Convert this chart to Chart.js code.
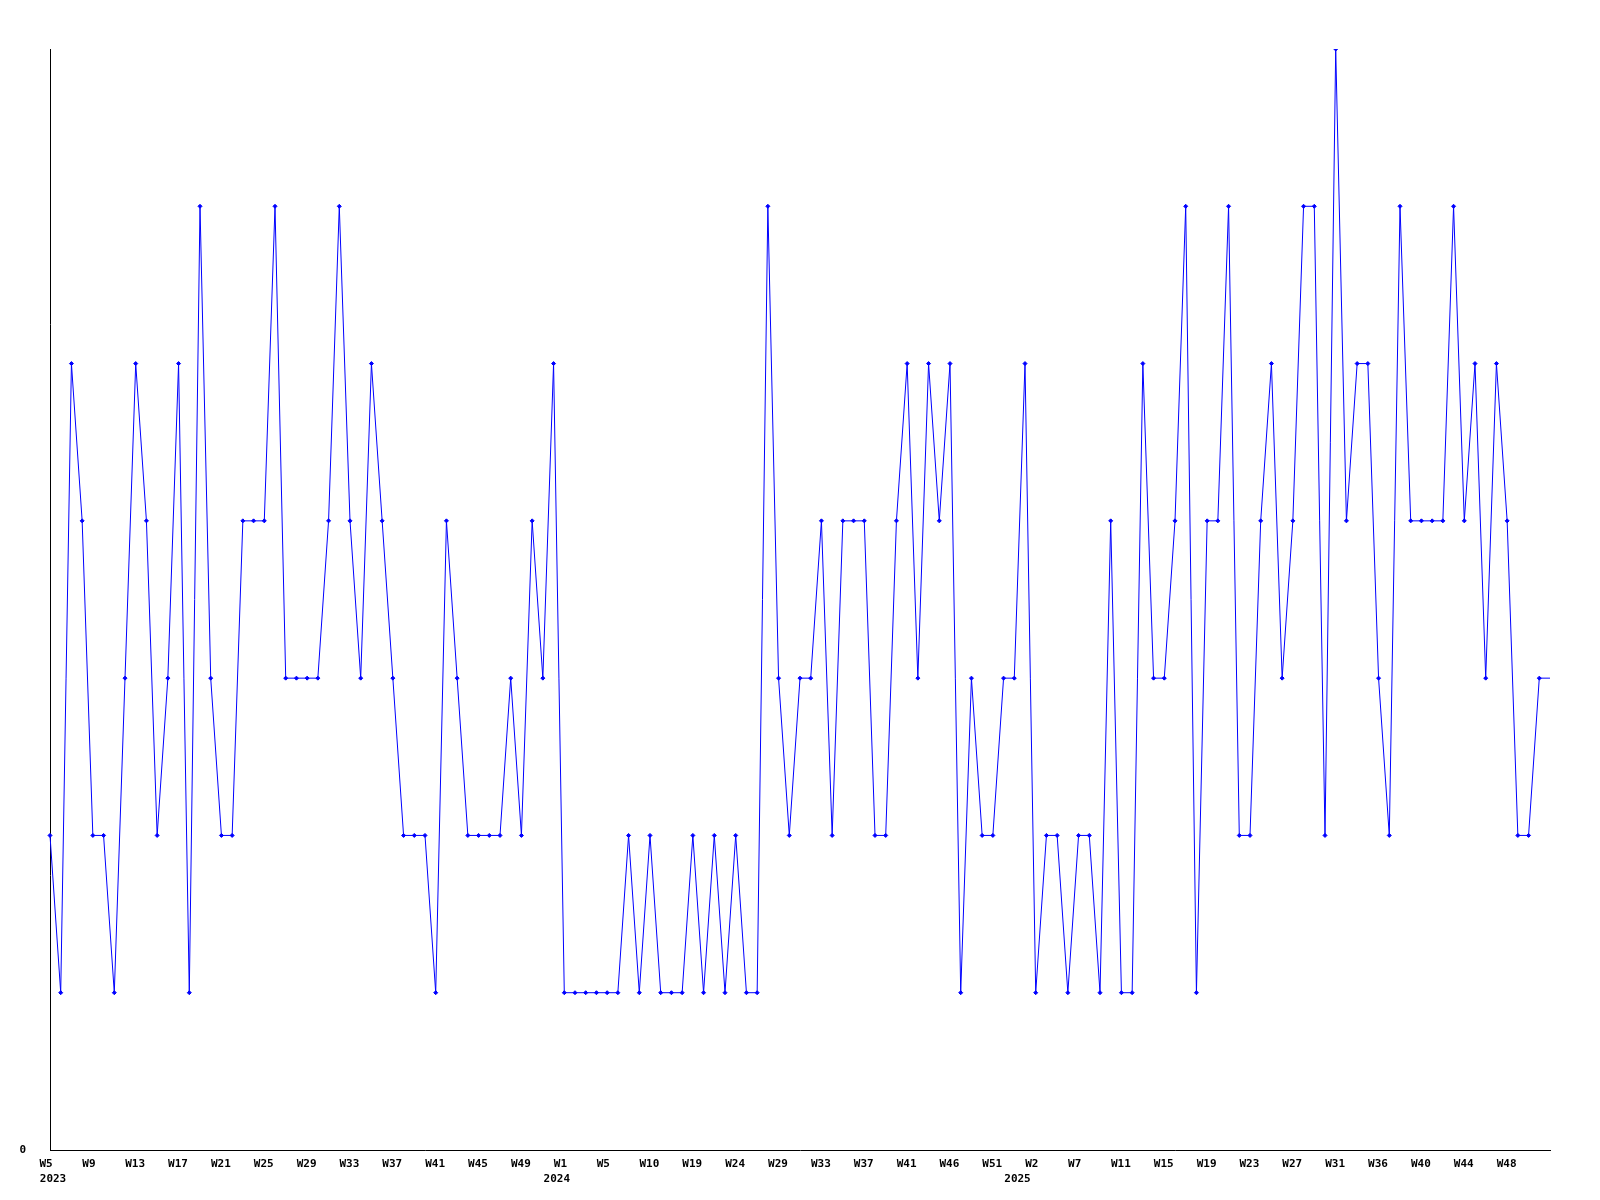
<!DOCTYPE html>
<html>
<head>
<meta charset="utf-8">
<script src="https://cdn.jsdelivr.net/npm/chart.js@4.4.1/dist/chart.umd.min.js"></script>
<style>
  html, body { margin: 0; padding: 0; background: #fff; }
  #wrap { width: 1600px; height: 1200px; }
</style>
</head>
<body>
<div id="wrap"><canvas id="chart"></canvas></div>
<script>
// week numbers per year, in the order they appear on the axis
const weeks2023 = [5, 6, 7, 8, 9, 10, 11, 12, 13, 14, 15, 16, 17, 18, 19, 20, 21, 22, 23, 24,
    25, 26, 27, 28, 29, 30, 31, 32, 33, 34, 35, 36, 37, 38, 39, 40, 41, 42, 43, 44,
    45, 46, 47, 48, 49, 50, 51, 52];
const weeks2024 = [1, 2, 3, 4, 5, 6, 7, 8, 10, 12, 15, 17, 19, 20, 22, 23, 24, 25, 27, 28,
    29, 30, 31, 32, 33, 34, 35, 36, 37, 38, 39, 40, 41, 42, 44, 45, 46, 47, 48, 50,
    51, 52, 53];
const weeks2025 = [1, 2, 3, 5, 6, 7, 8, 9, 10, 11, 12, 13, 14, 15, 16, 17, 18, 19, 20, 21,
    22, 23, 24, 25, 26, 27, 28, 29, 30, 31, 32, 33, 35, 36, 37, 38, 39, 40, 41, 42,
    43, 44, 45, 46, 47, 48, 49, 50, 51, 52];

const values = [
    2, 1, 5, 4, 2, 2, 1, 3, 5, 4,
    2, 3, 5, 1, 6, 3, 2, 2, 4, 4,
    4, 6, 3, 3, 3, 3, 4, 6, 4, 3,
    5, 4, 3, 2, 2, 2, 1, 4, 3, 2,
    2, 2, 2, 3, 2, 4, 3, 5, 1, 1,
    1, 1, 1, 1, 2, 1, 2, 1, 1, 1,
    2, 1, 2, 1, 2, 1, 1, 6, 3, 2,
    3, 3, 4, 2, 4, 4, 4, 2, 2, 4,
    5, 3, 5, 4, 5, 1, 3, 2, 2, 3,
    3, 5, 1, 2, 2, 1, 2, 2, 1, 4,
    1, 1, 5, 3, 3, 4, 6, 1, 4, 4,
    6, 2, 2, 4, 5, 3, 4, 6, 6, 2,
    7, 4, 5, 5, 3, 2, 6, 4, 4, 4,
    4, 6, 4, 5, 3, 5, 4, 2, 2, 3,
    3
];

// where each year label sits along the axis (in point index units)
const yearNames = ["2023", "2024", "2025"];
const yearAt = [0.28, 47.3, 90.3];

const labels = [];
[weeks2023, weeks2024, weeks2025].forEach((wks) => {
    wks.forEach((w) => labels.push("W" + w));
});

const tickFont = { family: '"DejaVu Sans Mono", monospace', size: 11, weight: "bold", lineHeight: 1.4 };

// x labels sit a little left of their point, left-aligned, like the original
const weekLabels = {
    id: "weekLabels",
    afterDraw(chart) {
        const x = chart.scales.x;
        const c = chart.ctx;
        c.save();
        c.fillStyle = "#000";
        c.font = "bold 11px 'DejaVu Sans Mono', monospace";
        c.textBaseline = "middle";
        c.textAlign = "left";
        for (let i = 0; i < 140; i += 4) {
            c.fillText(labels[i], x.getPixelForValue(i) - 10.5, x.top + 14);
        }
        c.textAlign = "center";
        yearNames.forEach((y, k) => {
            c.fillText(y, x.getPixelForValue(yearAt[k]), x.top + 29);
        });
        c.restore();
    },
};

const ctx = document.querySelector("#chart");

new Chart(ctx, {
    type: "line",
    data: {
        labels: labels,
        datasets: [
            {
                data: values,
                borderColor: "#0000ff",
                backgroundColor: "#0000ff",
                borderWidth: 1,
                tension: 0,
                fill: false,
                pointStyle: "rectRot",
                pointRadius: (c) => (c.dataIndex === values.length - 1 ? 0 : 2),
                pointBorderWidth: 1,
            },
        ],
    },
    options: {
        responsive: true,
        maintainAspectRatio: false,
        animation: false,
        layout: { padding: { top: 49, right: 50, left: 0, bottom: 0 } },
        scales: {
            x: {
                offset: false,
                grid: { display: false, drawTicks: false },
                border: { display: true, color: "#000", width: 1 },
                afterFit: (scale) => { scale.height = 50; },
                ticks: { display: false, autoSkip: false },
            },
            y: {
                min: 0,
                max: 7,
                grid: { display: false, drawTicks: false },
                border: { display: true, color: "#000", width: 1 },
                afterBuildTicks: (scale) => { scale.ticks = [{ value: 0 }]; },
                afterFit: (scale) => { scale.width = 50; },
                ticks: { padding: 24, color: "#000", font: tickFont },
            },
        },
        plugins: {
            legend: { display: false },
            tooltip: { enabled: false },
        },
    },
    plugins: [weekLabels],
});
</script>
</body>
</html>
